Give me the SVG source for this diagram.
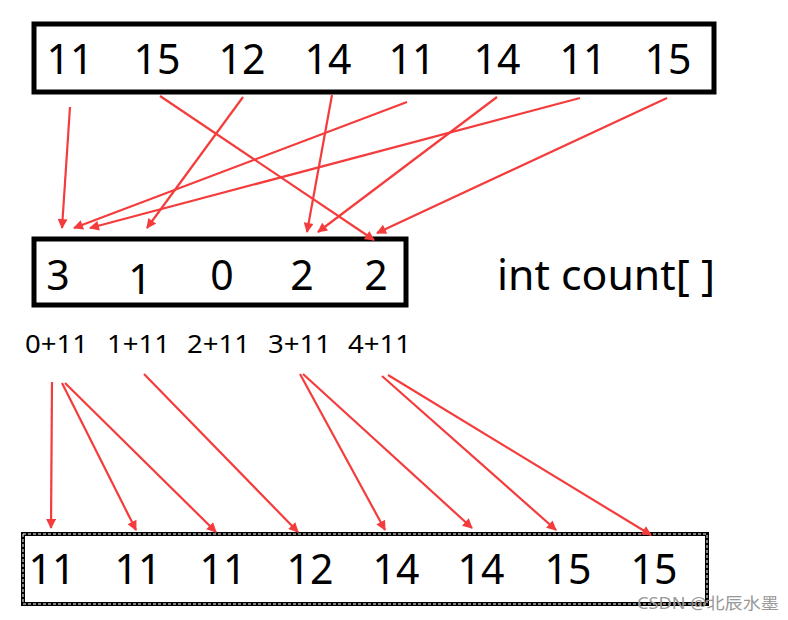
<svg xmlns="http://www.w3.org/2000/svg" width="788" height="620" viewBox="0 0 788 620">
<style>
.box{fill:#fff;stroke:#000;stroke-width:5}
.num{font-family:"Noto Sans","Open Sans",sans-serif;font-size:41px;fill:#000;text-anchor:middle}
.lbl{font-family:"Noto Sans","Open Sans",sans-serif;font-size:25px;fill:#000}
.arr{stroke:#f43c3c;stroke-width:2.2;fill:none;marker-end:url(#ah)}
</style>
<defs>
<marker id="ah" viewBox="0 0 10 10" refX="9" refY="5" markerWidth="5.5" markerHeight="4.5" orient="auto" markerUnits="strokeWidth">
<path d="M0,0 L10,5 L0,10 z" fill="#f43c3c"/>
</marker>
</defs>
<rect width="788" height="620" fill="#fff"/>
<g id="input">
<rect class="box" x="34" y="24" width="680" height="68"/>
<text class="num" x="70" y="74">11</text>
<text class="num" x="157" y="74">15</text>
<text class="num" x="242" y="74">12</text>
<text class="num" x="328" y="74">14</text>
<text class="num" x="412" y="74">11</text>
<text class="num" x="497" y="74">14</text>
<text class="num" x="583" y="74">11</text>
<text class="num" x="668" y="74">15</text>
</g>
<g id="count">
<rect class="box" x="34" y="239" width="372" height="66"/>
<text class="num" x="58" y="290">3</text>
<text class="num" x="140" y="294">1</text>
<text class="num" x="222" y="290">0</text>
<text class="num" x="302" y="290">2</text>
<text class="num" x="376" y="290">2</text>
<text class="num" x="497" y="290" style="text-anchor:start" textLength="218" lengthAdjust="spacingAndGlyphs">int count[ ]</text>
</g>
<g id="labels">
<text class="lbl" x="25" y="353" textLength="63" lengthAdjust="spacingAndGlyphs">0+11</text>
<text class="lbl" x="107" y="353" textLength="63" lengthAdjust="spacingAndGlyphs">1+11</text>
<text class="lbl" x="187" y="353" textLength="63" lengthAdjust="spacingAndGlyphs">2+11</text>
<text class="lbl" x="268" y="353" textLength="63" lengthAdjust="spacingAndGlyphs">3+11</text>
<text class="lbl" x="348" y="353" textLength="63" lengthAdjust="spacingAndGlyphs">4+11</text>
</g>
<g id="output">
<rect x="23" y="534" width="684" height="70" fill="#fff" stroke="#000" stroke-width="4"/>
<rect x="23" y="534" width="684" height="70" fill="none" stroke="#fff" stroke-width="1" stroke-dasharray="3 2"/>
<text class="num" x="52" y="584">11</text>
<text class="num" x="138" y="584">11</text>
<text class="num" x="223" y="584">11</text>
<text class="num" x="310" y="584">12</text>
<text class="num" x="396" y="584">14</text>
<text class="num" x="481" y="584">14</text>
<text class="num" x="568" y="584">15</text>
<text class="num" x="654" y="584">15</text>
</g>
<g id="connectors">
<line class="arr" x1="70" y1="107" x2="62" y2="228"/>
<line class="arr" x1="160" y1="96" x2="374" y2="240"/>
<line class="arr" x1="243" y1="97" x2="147" y2="228"/>
<line class="arr" x1="332" y1="95" x2="307" y2="232"/>
<line class="arr" x1="407" y1="102" x2="74" y2="228"/>
<line class="arr" x1="497" y1="97" x2="318" y2="232"/>
<line class="arr" x1="580" y1="98" x2="90" y2="228"/>
<line class="arr" x1="667" y1="98" x2="377" y2="233"/>
<line class="arr" x1="52" y1="382" x2="51" y2="528"/>
<line class="arr" x1="62" y1="383" x2="136" y2="530"/>
<line class="arr" x1="65" y1="383" x2="216" y2="532"/>
<line class="arr" x1="144" y1="374" x2="298" y2="532"/>
<line class="arr" x1="300" y1="374" x2="385" y2="530"/>
<line class="arr" x1="303" y1="374" x2="472" y2="528"/>
<line class="arr" x1="382" y1="376" x2="556" y2="530"/>
<line class="arr" x1="388" y1="375" x2="651" y2="535"/>
</g>
<text x="637" y="609" font-family="'Noto Sans','Noto Sans CJK SC',sans-serif" font-size="16" fill="#999" textLength="142" lengthAdjust="spacingAndGlyphs">CSDN @北辰水墨</text>
</svg>
